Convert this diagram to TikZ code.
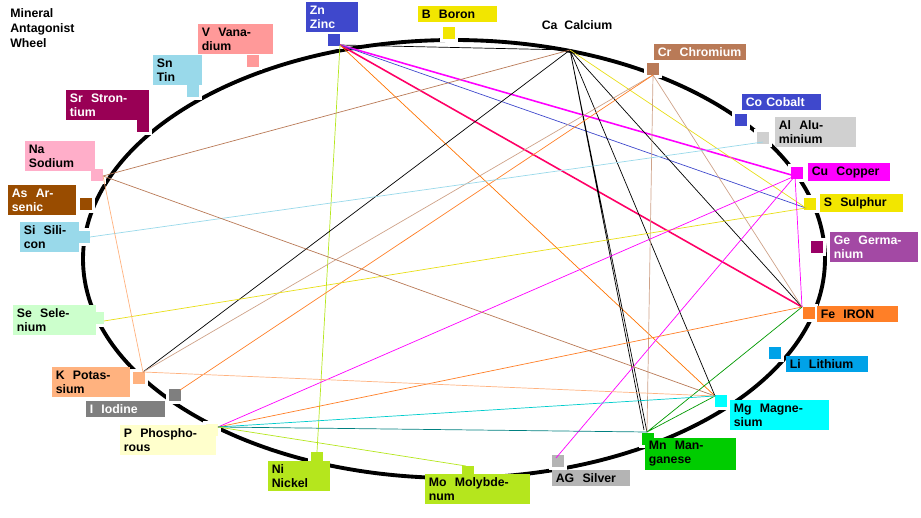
\documentclass[tikz,border=0pt]{standalone}
\usepackage{fontspec}
\setmainfont{Liberation Sans}
\begin{document}
\begin{tikzpicture}[x=0.02cm,y=-0.02cm,
 sq/.style={draw=white,line width=2pt,minimum size=0.3cm,inner sep=0pt},
 lb/.style={font=\bfseries\fontsize{7}{8}\selectfont,inner sep=2pt,anchor=west,minimum height=0.32cm,align=left},
 ln/.style={line width=0.4pt}]
\useasboundingbox (0,0) rectangle (921,518);
\draw[line width=2.2pt] (454,259) ellipse [x radius=371, y radius=219];
\definecolor{cZn}{HTML}{3F48CC}\definecolor{cB}{HTML}{F2E600}\definecolor{cCr}{HTML}{B97A57}
\definecolor{cCo}{HTML}{3F48CC}\definecolor{cAl}{HTML}{D0D0D0}\definecolor{cCu}{HTML}{FF00FF}
\definecolor{cS}{HTML}{F2E600}\definecolor{cGe}{HTML}{990066}\definecolor{cGeL}{HTML}{A349A4}\definecolor{cFe}{HTML}{FF7F27}
\definecolor{cLi}{HTML}{00A2E8}\definecolor{cMg}{HTML}{00FFFF}\definecolor{cMn}{HTML}{00CC00}
\definecolor{cAG}{HTML}{B4B4B4}\definecolor{cMo}{HTML}{B5E61D}\definecolor{cNi}{HTML}{B5E61D}\definecolor{cP}{HTML}{FFFFCC}
\definecolor{cI}{HTML}{7F7F7F}\definecolor{cK}{HTML}{FFB27F}\definecolor{cSe}{HTML}{CCFFCC}
\definecolor{cSi}{HTML}{99D9EA}\definecolor{cAs}{HTML}{994C00}\definecolor{cNa}{HTML}{FFAEC9}
\definecolor{cSr}{HTML}{990055}\definecolor{cSn}{HTML}{99D9EA}\definecolor{cV}{HTML}{FF9999}
\foreach \n/\x/\y in {Zn/334/40,B/449/33,Cr/653/69,Co/741/120,Al/763/138,Cu/797/173,S/810/204,Ge/817/247,Fe/809/313,Li/775/353,Mg/721/401,Mn/648/439,AG/558/461,Mo/468/472,Ni/317/458,P/212/430,I/175/395,K/139/378,Se/98/318,Si/84/237,As/86/204,Na/97/175,Sr/143/126,Sn/193/91,V/253/61}
 {\node[sq,fill=c\n] (s\n) at (\x,\y) {};}
\coordinate (Ca) at (570,50);
\coordinate (Zn) at (340,45);\coordinate (Cr) at (653,75);\coordinate (Cu) at (795,176);
\coordinate (S) at (806,208);\coordinate (Fe) at (802,307);\coordinate (Mg) at (715,396);
\coordinate (Mn) at (647,432);\coordinate (AG) at (556,458);\coordinate (Ni) at (317,452);
\coordinate (Mo) at (466,466);\coordinate (P) at (218,427);\coordinate (I) at (180,390);
\coordinate (K) at (143,372);\coordinate (Se) at (104,321);\coordinate (Si) at (90,237);
\coordinate (Na) at (103,176);\coordinate (Al) at (763,142);\coordinate (Ge) at (814,245);
\coordinate (Mn2) at (644,430);
\draw[ln,black] (Zn)--(Ca);
\draw[line width=0.9pt,cCu] (Zn)--(Cu);
\draw[line width=0.9pt,red!60!magenta] (Zn)--(Fe);
\draw[ln,cZn] (Zn)--(S);
\draw[ln,orange!90!red] (Zn)--(Mg);
\draw[ln,cMo] (Zn)--(Ni);
\draw[ln,black] (Ca)--(K);
\draw[ln,cCr] (Ca)--(Na);
\draw[ln,black] (Ca)--(Mn) (Ca)--(Mg) (Ca)--(Fe) (Ca)--(Mn2);
\draw[ln,yellow!90!black] (Ca)--(S);
\draw[ln,cCr!70] (Cr)--(Mn) (Cr)--(K) (Cr)--(Fe);
\draw[ln,cFe] (Cr)--(I);
\draw[ln,cSi] (Al)--(Si);
\draw[ln,yellow!90!black] (S)--(Se);
\draw[ln,cCu] (Cu)--(Fe) (Cu)--(P) (Cu)--(AG);
\draw[ln,cFe] (Fe)--(P);
\draw[ln,green!60!black] (Fe)--(Mn) (Mg)--(Mn);
\draw[ln,cCr] (Na)--(Mg);
\draw[ln,cK] (Na)--(K) (K)--(Mg);
\draw[ln,cMg!80!black] (P)--(Mg);
\draw[ln,teal] (P)--(Mn);
\draw[ln,cMo] (P)--(Mo);
\node[font=\bfseries\fontsize{7}{8.5}\selectfont,align=left,anchor=north west,inner sep=0pt] (title) at (10,8) {Mineral\\Antagonist\\Wheel};
\node[lb,text=black] (lCa) at (538,25) {Ca\ \ Calcium};
\node[lb,fill=cZn,text=white,text width=0.9cm] (lZn) at (306,17) {Zn\ \ Zinc};
\node[lb,fill=cB,text width=1.44cm] (lB) at (418,14) {B\ \ Boron};
\node[lb,fill=cCr,text=white,text width=1.7cm] (lCr) at (654,52) {Cr\ \ Chromium};
\node[lb,fill=cCo,text=white,text width=1.44cm] (lCo) at (742,102) {Co Cobalt};
\node[lb,fill=cAl,text width=1.48cm] (lAl) at (775,132) {Al\ \ Aluminium};
\node[lb,fill=cCu,text width=1.5cm] (lCu) at (808,172) {Cu\ \ Copper};
\node[lb,fill=cS,text width=1.52cm] (lS) at (820,203) {S\ \ Sulphur};
\node[lb,fill=cGeL,text=white,text width=1.62cm,minimum height=0.4cm] (lGe) at (830,247) {Ge\ \ Germanium};
\node[lb,fill=cFe,text width=1.48cm] (lFe) at (817,314) {Fe\ \ IRON};
\node[lb,fill=cLi,text width=1.5cm] (lLi) at (786,364) {Li\ \ Lithium};
\node[lb,fill=cMg,text width=1.84cm] (lMg) at (730,415) {Mg\ \ Magnesium};
\node[lb,fill=cMn,text width=1.68cm] (lMn) at (645,454) {Mn\ \ Manganese};
\node[lb,fill=cAG,text width=1.42cm] (lAG) at (552,478) {AG\ \ Silver};
\node[lb,fill=cMo,text width=1.96cm] (lMo) at (425,489) {Mo\ \ Molybdenum};
\node[lb,fill=cMo,text width=1.1cm] (lNi) at (268,476) {Ni\ \ Nickel};
\node[lb,fill=cP,text width=1.78cm] (lP) at (120,440) {P\ \ Phosphorous};
\node[lb,fill=cI,text=white,text width=1.44cm] (lI) at (86,409) {I\ \ Iodine};
\node[lb,fill=cK,text width=1.42cm] (lK) at (52,382) {K\ \ Potassium};
\node[lb,fill=cSe,text width=1.52cm] (lSe) at (13,320) {Se\ \ Selenium};
\node[lb,fill=cSi,text width=1.04cm] (lSi) at (20,237) {Si\ \ Silicon};
\node[lb,fill=cAs,text=white,text width=1.22cm] (lAs) at (8,200) {As\ \ Arsenic};
\node[lb,fill=cNa,text width=1.26cm] (lNa) at (25,156) {Na\ \ Sodium};
\node[lb,fill=cSr,text=white,text width=1.52cm] (lSr) at (66,105) {Sr\ \ Strontium};
\node[lb,fill=cSi,text width=0.84cm] (lSn) at (153,70) {Sn\ \ Tin};
\node[lb,fill=cV,text width=1.36cm] (lV) at (198,39) {V\ \ Vanadium};
\end{tikzpicture}
\end{document}
